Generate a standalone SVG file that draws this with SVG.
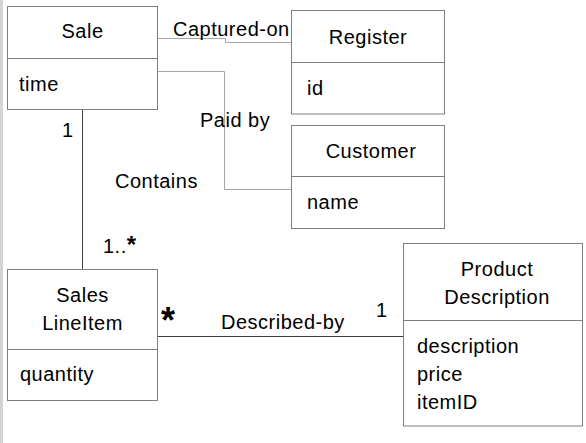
<svg xmlns="http://www.w3.org/2000/svg" width="586" height="443" viewBox="0 0 586 443">
<style>
.box{fill:#fff;stroke:#7f7f7f;stroke-width:1}
.div{stroke:#7f7f7f;stroke-width:1}
.t{font-family:"Liberation Sans",Arial,sans-serif;font-size:20px;fill:#000;letter-spacing:0.5px}
.c{text-anchor:middle}
.light{fill:none;stroke:#a6a6a6;stroke-width:1}
.dark{fill:none;stroke:#404040;stroke-width:1}
</style>
<rect x="0" y="0" width="586" height="443" fill="#fff"/>
<rect x="0" y="0" width="3" height="443" fill="#d4d4d4"/>
<g id="connectors">
<polyline class="light" points="158,38.5 225.5,38.5 225.5,42.5 291,42.5"/>
<polyline class="light" points="158,71.5 224.5,71.5 224.5,189.5 291,189.5"/>
<line class="dark" x1="82.5" y1="110" x2="82.5" y2="269"/>
<line class="dark" x1="158" y1="336.5" x2="404" y2="336.5"/>
<text class="t" x="173" y="36">Captured-on</text>
<text class="t" x="200" y="127">Paid by</text>
<text class="t" x="62" y="137">1</text>
<text class="t" x="115" y="188">Contains</text>
<text class="t" x="103" y="253">1..<tspan style="font-size:24px;font-weight:bold">*</tspan></text>
<text x="161" y="333" style="font-family:'Liberation Sans',Arial,sans-serif;font-size:36px;font-weight:bold">*</text>
<text class="t" x="221" y="329">Described-by</text>
<text class="t" x="376" y="317">1</text>
</g>
<g id="sale">
<rect class="box" x="7.5" y="6.5" width="150" height="103"/>
<line class="div" x1="7.5" y1="58.5" x2="157.5" y2="58.5"/>
<text class="t c" x="82.5" y="38">Sale</text>
<text class="t" x="19" y="91">time</text>
</g>
<g id="register">
<rect class="box" x="291.5" y="10.5" width="153" height="103.5"/>
<line class="div" x1="291.5" y1="62.5" x2="444.5" y2="62.5"/>
<text class="t c" x="368" y="44">Register</text>
<text class="t" x="307" y="95">id</text>
</g>
<g id="customer">
<rect class="box" x="291.5" y="125.5" width="153" height="103"/>
<line class="div" x1="291.5" y1="176.5" x2="444.5" y2="176.5"/>
<text class="t c" x="371" y="158">Customer</text>
<text class="t" x="307" y="209">name</text>
</g>
<g id="saleslineitem">
<rect class="box" x="7.5" y="269.5" width="150" height="131"/>
<line class="div" x1="7.5" y1="349.5" x2="157.5" y2="349.5"/>
<text class="t c" x="82.5" y="302">Sales</text>
<text class="t c" x="82.5" y="330">LineItem</text>
<text class="t" x="20" y="381">quantity</text>
</g>
<g id="productdescription">
<rect class="box" x="403.5" y="243.5" width="179" height="182.5"/>
<line class="div" x1="403.5" y1="320.5" x2="582.5" y2="320.5"/>
<text class="t c" x="497" y="276">Product</text>
<text class="t c" x="497" y="304">Description</text>
<text class="t" x="417" y="353">description</text>
<text class="t" x="417" y="381">price</text>
<text class="t" x="417" y="409">itemID</text>
</g>
</svg>
